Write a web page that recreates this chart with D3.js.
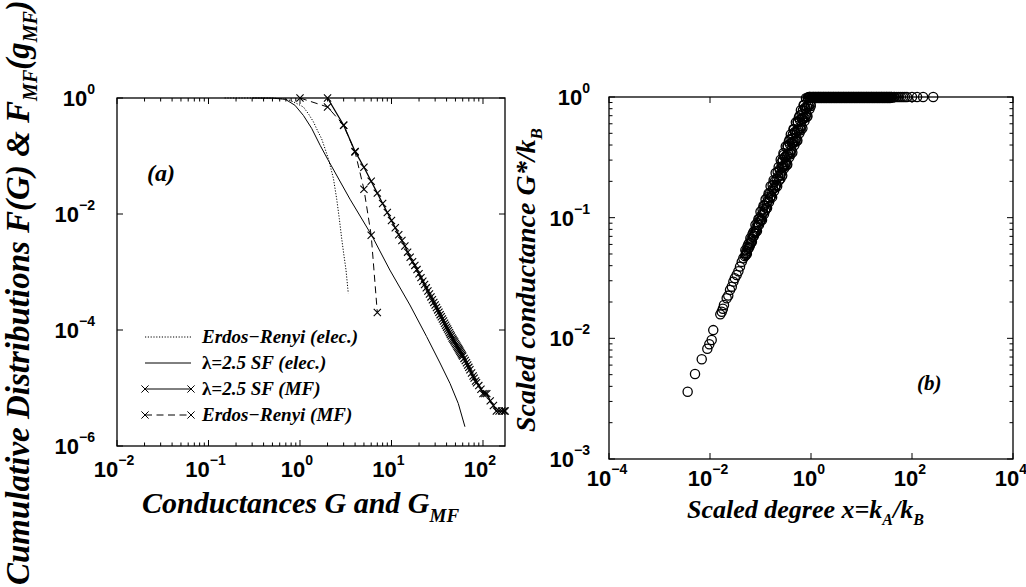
<!DOCTYPE html>
<html><head><meta charset="utf-8">
<script src="https://cdn.jsdelivr.net/npm/d3@7"></script>
<style>html,body{margin:0;padding:0;background:#fff;} svg{display:block;}</style>
</head><body>
<svg id="chart" width="1026" height="587"></svg>
<script>
// ---------- Panel (a): cumulative distributions ----------
const erElecG = [0.15,0.3,0.5,0.65,0.78,0.9,1.09,1.25,1.4,1.56,1.72,1.88,2.04,2.18,2.32,2.52,2.69,2.86,3.0,3.18,3.37];
const erElecF = [1,1,0.995,0.97,0.91,0.82,0.70,0.52,0.39,0.27,0.20,0.133,0.09,0.06,0.041,0.018,0.0083,0.0037,0.0021,0.0011,0.00043];

const sfElecG = [0.3,0.5,0.69,0.88,1.09,1.34,1.66,2.04,3.52,6.07,9.6,15.9,24.2,33.9,43.6,53.7,63.5];
const sfElecF = [1,0.995,0.95,0.75,0.50,0.30,0.153,0.084,0.018,0.0043,0.00108,0.00027,0.000077,0.000027,0.000012,0.0000054,0.00000215];

const sfMfG = [2,3,4,5,6,7,8,9,10,11,12,13,14,15,16,17,18,19,20,
  21,22,23,24,25,26,27,28,29,30,31,32,33,34,35,36,37,38,39,40,
  41,42,43,44,45,46,47,48,49,50,51,52,53,54,55,56,57,58,59,60,
  62,64,66,68,70,72,75,78,80,83,85,90,95,100,105,110,120,130,140,150,160,170,175];
const sfMfF = [1,0.34,0.12,0.064,0.0366,0.0229,0.0152,0.0106,0.0077,0.0058,0.0044,0.0035,0.0028,0.0022,0.0018,0.0015,0.0013,0.0011,0.00093,
  0.0008,0.000695,0.000607,0.000533,0.000471,0.000418,0.000372,0.000333,0.000299,0.00027,0.000244,0.000222,0.000202,0.000184,0.000169,0.000155,0.000143,0.000131,0.000121,0.000112,
  0.000104,0.000097,0.00009,0.000084,0.0000785,0.000073,0.000069,0.0000655,0.000062,0.0000585,0.0000554,0.0000525,0.0000499,0.0000473,0.000045,0.0000429,0.0000408,0.000039,0.0000372,0.0000355,
  0.0000324,0.0000297,0.0000273,0.0000249,0.0000227,0.0000207,0.0000182,0.0000161,0.0000148,0.0000132,0.0000123,0.000011,0.0000095,0.000008,0.000008,0.000008,0.000006,0.000005,0.000004,0.000004,0.000004,0.000004,0.000004];

const erMfG = [1,2,3,4,5,6,7];
const erMfF = [1,0.70,0.34,0.117,0.0267,0.0043,0.0002];

const legendLabels = ["Erdos\u2212Renyi (elec.)", "\u03bb=2.5 SF (elec.)", "\u03bb=2.5 SF (MF)", "Erdos\u2212Renyi (MF)"];

const aXTicks = [1e-2,1e-1,1,10,100];
const aXTickLabels = ["\u22122","\u22121","0","1","2"];
const aYTicks = [1,1e-2,1e-4,1e-6];
const aYTickLabels = ["0","\u22122","\u22124","\u22126"];

// ---------- Panel (b): scaled conductance ----------
// sparse low-x points (linear values)
const sparseX = [0.00361,0.00505,0.00686,0.00885,0.00969,0.0108,0.0116,0.0160,0.0171,0.0180,0.0189,0.0214,0.0230,0.0249,0.0270,0.0290,0.0310,0.0337,0.0365,0.0393,0.0425,0.0457,0.0490,0.0520];
const sparseY = [0.00361,0.00507,0.00671,0.0082,0.00893,0.0097,0.0117,0.0158,0.0166,0.0176,0.0189,0.0215,0.0226,0.0252,0.0268,0.0295,0.0315,0.0335,0.0360,0.0393,0.0430,0.0461,0.0480,0.0510];
// dense rising band (values given as log10)
const bandLogX = [
  -1.30,-1.29,-1.28,-1.27,-1.26,-1.25,-1.24,-1.23,-1.22,-1.21,
  -1.20,-1.19,-1.18,-1.17,-1.16,-1.15,-1.14,-1.13,-1.12,-1.11,
  -1.10,-1.09,-1.08,-1.07,-1.06,-1.05,-1.04,-1.03,-1.02,-1.01,
  -1.00,-0.99,-0.98,-0.97,-0.96,-0.95,-0.94,-0.93,-0.92,-0.91,
  -0.90,-0.89,-0.88,-0.87,-0.86,-0.85,-0.84,-0.83,-0.82,-0.81,
  -0.80,-0.79,-0.78,-0.77,-0.76,-0.75,-0.74,-0.73,-0.72,-0.71,
  -0.70,-0.69,-0.68,-0.67,-0.66,-0.65,-0.64,-0.63,-0.62,-0.61,
  -0.60,-0.59,-0.58,-0.57,-0.56,-0.55,-0.54,-0.53,-0.52,-0.51,
  -0.50,-0.49,-0.48,-0.47,-0.46,-0.45,-0.44,-0.43,-0.42,-0.41,
  -0.40,-0.39,-0.38,-0.37,-0.36,-0.35,-0.34,-0.33,-0.32,-0.31,
  -0.30,-0.29,-0.28,-0.27,-0.26,-0.25,-0.24,-0.23,-0.22,-0.21,
  -0.20,-0.19,-0.18,-0.17,-0.16,-0.15,-0.14,-0.13,-0.12,-0.11,
  -0.10,-0.09,-0.08,-0.07,-0.06,-0.05,-0.04,-0.03,-0.02,-0.01,
  -0.605,-0.585,-0.565,-0.545,-0.525,-0.505,-0.485,-0.465,-0.445,-0.425,
  -0.405,-0.385,-0.365,-0.345,-0.325,-0.305,-0.285,-0.265,-0.245,-0.225,
  -0.205,-0.185,-0.165,-0.145,-0.125,-0.105,-0.085,-0.065,-0.045,-0.025,-0.005];
const bandLogY = [
  -1.27,-1.31,-1.28,-1.30,-1.24,-1.26,-1.22,-1.25,-1.21,-1.23,
  -1.17,-1.21,-1.18,-1.20,-1.14,-1.16,-1.12,-1.15,-1.11,-1.13,
  -1.06,-1.11,-1.08,-1.11,-1.04,-1.06,-1.01,-1.06,-1.01,-1.03,
  -0.95,-1.02,-0.98,-1.02,-0.93,-0.96,-0.90,-0.97,-0.90,-0.94,
  -0.85,-0.92,-0.88,-0.92,-0.83,-0.86,-0.80,-0.87,-0.80,-0.84,
  -0.74,-0.82,-0.78,-0.83,-0.73,-0.76,-0.69,-0.78,-0.70,-0.75,
  -0.63,-0.73,-0.68,-0.74,-0.62,-0.66,-0.58,-0.69,-0.60,-0.65,
  -0.52,-0.63,-0.58,-0.65,-0.52,-0.57,-0.48,-0.59,-0.50,-0.56,
  -0.41,-0.54,-0.48,-0.56,-0.41,-0.47,-0.37,-0.50,-0.39,-0.46,
  -0.31,-0.44,-0.38,-0.46,-0.31,-0.37,-0.27,-0.40,-0.29,-0.36,
  -0.21,-0.34,-0.28,-0.36,-0.21,-0.27,-0.17,-0.30,-0.19,-0.26,
  -0.11,-0.24,-0.18,-0.26,-0.11,-0.17,-0.07,-0.20,-0.09,-0.16,
  -0.01,-0.14,-0.08,-0.16,-0.01,-0.07,0,-0.10,0,-0.06,
  -0.675,-0.545,-0.585,-0.465,-0.575,-0.495,-0.565,-0.405,-0.475,-0.355,
  -0.475,-0.345,-0.385,-0.265,-0.375,-0.295,-0.365,-0.205,-0.275,-0.155,
  -0.275,-0.145,-0.185,-0.065,-0.175,-0.095,-0.165,-0.005,-0.075,0,-0.075];
// saturated plateau (values given as log10)
const flatLogX = [
  0.00,0.01,0.02,0.03,0.04,0.05,0.06,0.07,0.08,0.09,
  0.10,0.11,0.12,0.13,0.14,0.15,0.16,0.17,0.18,0.19,
  0.20,0.21,0.22,0.23,0.24,0.25,0.26,0.27,0.28,0.29,
  0.30,0.31,0.32,0.33,0.34,0.35,0.36,0.37,0.38,0.39,
  0.40,0.41,0.42,0.43,0.44,0.45,0.46,0.47,0.48,0.49,
  0.50,0.51,0.52,0.53,0.54,0.55,0.56,0.57,0.58,0.59,
  0.60,0.61,0.62,0.63,0.64,0.65,0.66,0.67,0.68,0.69,
  0.70,0.71,0.72,0.73,0.74,0.75,0.76,0.77,0.78,0.79,
  0.80,0.81,0.82,0.83,0.84,0.85,0.86,0.87,0.88,0.89,
  0.90,0.91,0.92,0.93,0.94,0.95,0.96,0.97,0.98,0.99,
  1.00,1.01,1.02,1.03,1.04,1.05,1.06,1.07,1.08,1.09,
  1.10,1.11,1.12,1.13,1.14,1.15,1.16,1.17,1.18,1.19,
  1.20,1.21,1.22,1.23,1.24,1.25,1.26,1.27,1.28,1.29,
  1.30,1.31,1.32,1.33,1.34,1.35,1.36,1.37,1.38,1.39,
  1.40,1.41,1.42,1.43,1.44,1.45,1.46,1.47,1.48,1.49,
  1.50,1.51,1.52,1.53,1.54,1.55,1.56,1.57,1.58,1.59,
  1.60,1.62,1.64,1.66,
  1.70,1.74,1.78,1.82,1.86,1.90,2.00,2.10,2.22,2.42];
const flatLogY = [
  0,-0.008,0,-0.004,0,0,-0.008,0,-0.004,0,
  0,-0.008,0,-0.004,0,0,-0.008,0,-0.004,0,
  0,-0.008,0,-0.004,0,0,-0.008,0,-0.004,0,
  0,-0.008,0,-0.004,0,0,-0.008,0,-0.004,0,
  0,-0.008,0,-0.004,0,0,-0.008,0,-0.004,0,
  0,-0.008,0,-0.004,0,0,-0.008,0,-0.004,0,
  0,-0.008,0,-0.004,0,0,-0.008,0,-0.004,0,
  0,-0.008,0,-0.004,0,0,-0.008,0,-0.004,0,
  0,-0.008,0,-0.004,0,0,-0.008,0,-0.004,0,
  0,-0.008,0,-0.004,0,0,-0.008,0,-0.004,0,
  0,-0.008,0,-0.004,0,0,-0.008,0,-0.004,0,
  0,-0.008,0,-0.004,0,0,-0.008,0,-0.004,0,
  0,-0.008,0,-0.004,0,0,-0.008,0,-0.004,0,
  0,-0.008,0,-0.004,0,0,-0.008,0,-0.004,0,
  0,-0.008,0,-0.004,0,0,-0.008,0,-0.004,0,
  0,-0.008,0,-0.004,0,0,-0.008,0,-0.004,0,
  0,-0.004,0,0,
  0,0,0,0,0,0,0,0,0,0];

const bXTicks = [1e-4,1e-2,1,100,1e4];
const bXTickLabels = ["\u22124","\u22122","0","2","4"];
const bYTicks = [1,0.1,0.01,0.001];
const bYTickLabels = ["0","\u22121","\u22122","\u22123"];

// ---------- drawing ----------
const SANS = "'Liberation Sans', Arial, sans-serif";
const SERIF = "'Liberation Serif', 'Times New Roman', serif";
const svg = d3.select('#chart');
svg.append('rect').attr('width',1026).attr('height',587).attr('fill','#fff');

const xL = d3.scaleLog().domain([0.01, 174]).range([117, 505]);
const yL = d3.scaleLog().domain([1e-6, 1]).range([446, 98]);
const xR = d3.scaleLog().domain([1e-4, 1e4]).range([609, 1013]);
const yR = d3.scaleLog().domain([1e-3, 1]).range([459, 97]);

const isMinor = v => Math.abs(Math.log10(v) - Math.round(Math.log10(v))) > 1e-6;

function frame(g, x, y) {
  const [x0,x1] = x.range(), [yb,yt] = y.range();
  g.append('rect').attr('x',x0).attr('y',yt).attr('width',x1-x0).attr('height',yb-yt)
    .attr('fill','none').attr('stroke','#000').attr('stroke-width',1.3);
}
function ticksX(g, x, y, vals, len) {
  const [yb,yt] = y.range();
  vals.forEach(v => {
    g.append('line').attr('x1',x(v)).attr('x2',x(v)).attr('y1',yb).attr('y2',yb-len).attr('stroke','#000').attr('stroke-width',1);
    g.append('line').attr('x1',x(v)).attr('x2',x(v)).attr('y1',yt).attr('y2',yt+len).attr('stroke','#000').attr('stroke-width',1);
  });
}
function ticksY(g, x, y, vals, len) {
  const [x0,x1] = x.range();
  vals.forEach(v => {
    g.append('line').attr('y1',y(v)).attr('y2',y(v)).attr('x1',x0).attr('x2',x0+len).attr('stroke','#000').attr('stroke-width',1);
    g.append('line').attr('y1',y(v)).attr('y2',y(v)).attr('x1',x1).attr('x2',x1-len).attr('stroke','#000').attr('stroke-width',1);
  });
}
function powLabel(g, px, py, exp, anchor) {
  const t = g.append('text').attr('x',px).attr('y',py).attr('text-anchor',anchor)
    .attr('font-family',SANS).attr('font-weight','bold').attr('font-size',22).attr('fill','#000');
  t.append('tspan').text('10');
  t.append('tspan').attr('dy',-12).attr('font-size',14).text(exp);
}
function serifText(g, px, py, size) {
  return g.append('text').attr('x',px).attr('y',py).attr('font-family',SERIF)
    .attr('font-weight','bold').attr('font-style','italic').attr('font-size',size).attr('fill','#000');
}
const crossPath = 'M-3.6,-3.6L3.6,3.6M-3.6,3.6L3.6,-3.6';

// ===== Panel (a) =====
const ga = svg.append('g');
frame(ga, xL, yL);
ticksX(ga, xL, yL, aXTicks, 6);
ticksX(ga, xL, yL, xL.ticks().filter(isMinor), 3.5);
ticksY(ga, xL, yL, aYTicks, 6);
aXTicks.forEach((v,i) => powLabel(ga, xL(v)-3, 477, aXTickLabels[i], 'middle'));
aYTicks.forEach((v,i) => powLabel(ga, 95, yL(v)+8, aYTickLabels[i], 'end'));

const lineL = d3.line().x(d => xL(d[0])).y(d => yL(d[1]));
const erElec = erElecG.map((g,i)=>[g, erElecF[i]]);
const sfElec = sfElecG.map((g,i)=>[g, sfElecF[i]]);
const sfMf = sfMfG.map((g,i)=>[g, sfMfF[i]]);
const erMf = erMfG.map((g,i)=>[g, erMfF[i]]);

ga.append('path').attr('d', lineL(erElec)).attr('fill','none').attr('stroke','#000').attr('stroke-width',1).attr('stroke-dasharray','1.2,1.6');
ga.append('path').attr('d', lineL(sfElec)).attr('fill','none').attr('stroke','#000').attr('stroke-width',1);
ga.append('path').attr('d', lineL(sfMf)).attr('fill','none').attr('stroke','#000').attr('stroke-width',1.3);
ga.selectAll('path.mksf').data(sfMf).enter().append('path').attr('class','mksf')
  .attr('transform', d => `translate(${xL(d[0])},${yL(d[1])})`).attr('d', crossPath).attr('stroke','#000').attr('stroke-width',1.1).attr('fill','none');
ga.append('path').attr('d', lineL(erMf)).attr('fill','none').attr('stroke','#000').attr('stroke-width',1).attr('stroke-dasharray','7,4.5');
ga.selectAll('path.mker').data(erMf).enter().append('path').attr('class','mker')
  .attr('transform', d => `translate(${xL(d[0])},${yL(d[1])})`).attr('d', crossPath).attr('stroke','#000').attr('stroke-width',1.1).attr('fill','none');

// legend
const legY = [337, 363, 389, 415];
const legStyles = [
  {dash:'1.2,1.6', mk:false}, {dash:null, mk:false}, {dash:null, mk:true}, {dash:'7,4.5', mk:true}
];
legendLabels.forEach((lab,i) => {
  const ln = ga.append('line').attr('x1',145).attr('x2',191).attr('y1',legY[i]).attr('y2',legY[i]).attr('stroke','#000').attr('stroke-width',1);
  if (legStyles[i].dash) ln.attr('stroke-dasharray', legStyles[i].dash);
  if (legStyles[i].mk) {
    [145,191].forEach(px => ga.append('path').attr('transform',`translate(${px},${legY[i]})`).attr('d',crossPath).attr('stroke','#000').attr('stroke-width',1));
  }
  const t = serifText(ga, 202, legY[i]+6, 19);
  if (lab.startsWith('\u03bb')) {
    t.append('tspan').attr('font-style','normal').text('\u03bb');
    t.append('tspan').text(lab.slice(1));
  } else t.text(lab);
});
serifText(ga, 147, 181, 24).text('(a)');

// axis titles (a)
const tA = serifText(svg, 142, 513, 30);
tA.append('tspan').text('Conductances G and G');
tA.append('tspan').attr('dy',9).attr('font-size',19).text('MF');

const tY = svg.append('text').attr('transform','translate(29,585) rotate(-90)')
  .attr('font-family',SERIF).attr('font-weight','bold').attr('font-style','italic').attr('font-size',33).attr('fill','#000');
tY.append('tspan').text('Cumulative Distributions F(G) & F');
tY.append('tspan').attr('dy',8).attr('font-size',20).text('MF');
tY.append('tspan').attr('dy',-8).text('(g');
tY.append('tspan').attr('dy',8).attr('font-size',20).text('MF');
tY.append('tspan').attr('dy',-8).text(')');

// ===== Panel (b) =====
const gb = svg.append('g');
frame(gb, xR, yR);
ticksX(gb, xR, yR, bXTicks, 6);
ticksY(gb, xR, yR, bYTicks, 6);
ticksY(gb, xR, yR, yR.ticks().filter(isMinor), 3.5);
bXTicks.forEach((v,i) => powLabel(gb, xR(v)-2, 486, bXTickLabels[i], 'middle'));
bYTicks.forEach((v,i) => powLabel(gb, 590, yR(v)+8, bYTickLabels[i], 'end'));

const pts = sparseX.map((x,i)=>[x, sparseY[i]])
  .concat(bandLogX.map((lx,i)=>[Math.pow(10,lx), Math.pow(10,bandLogY[i])]))
  .concat(flatLogX.map((lx,i)=>[Math.pow(10,lx), Math.pow(10,flatLogY[i])]));
gb.selectAll('circle.pt').data(pts).enter().append('circle').attr('class','pt')
  .attr('cx', d => xR(d[0])).attr('cy', d => yR(d[1])).attr('r',4.6)
  .attr('fill','none').attr('stroke','#000').attr('stroke-width',1.3);

serifText(gb, 917, 390, 21).text('(b)');

const tBx = serifText(svg, 687, 518, 26);
tBx.append('tspan').text('Scaled degree x=k');
tBx.append('tspan').attr('dy',7).attr('font-size',16).text('A');
tBx.append('tspan').attr('dy',-7).text('/k');
tBx.append('tspan').attr('dy',7).attr('font-size',16).text('B');

const tBy = svg.append('text').attr('transform','translate(535,432) rotate(-90)')
  .attr('font-family',SERIF).attr('font-weight','bold').attr('font-style','italic').attr('font-size',28).attr('fill','#000');
tBy.append('tspan').text('Scaled conductance G*/k');
tBy.append('tspan').attr('dy',7).attr('font-size',17).text('B');
</script>
</body></html>
